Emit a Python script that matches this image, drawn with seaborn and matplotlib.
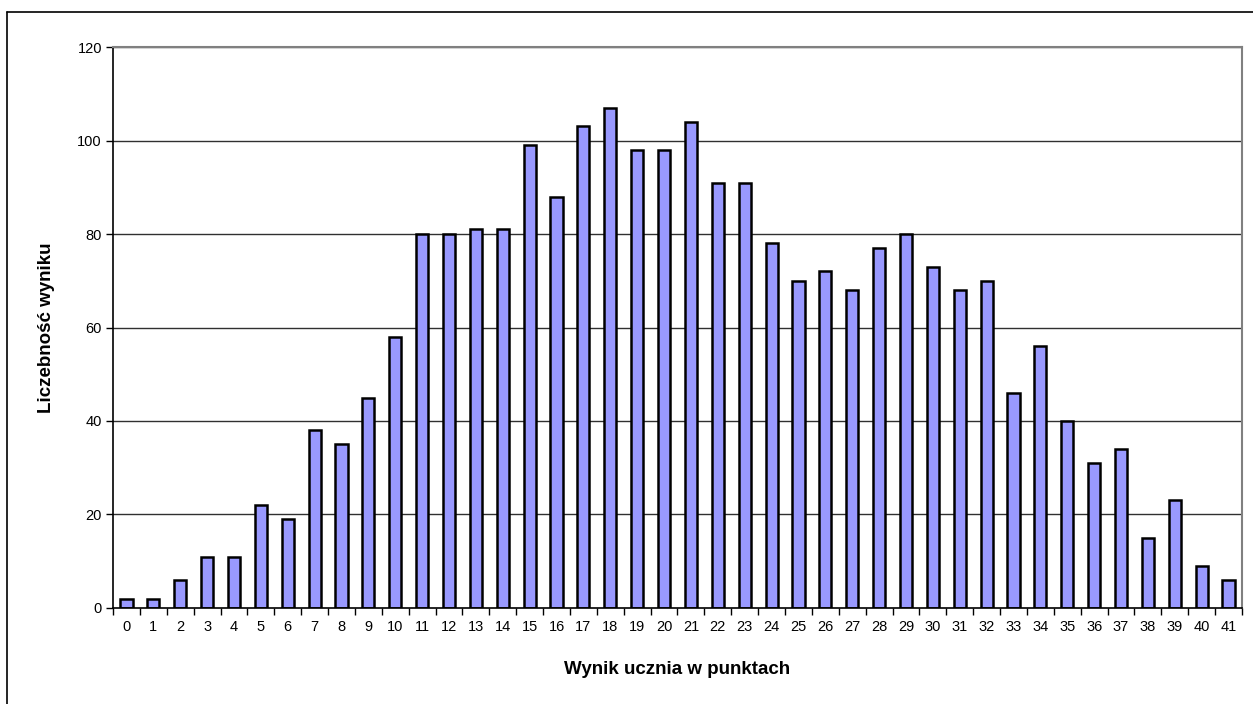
"""
Histogram of student scores (Liczebność wyniku vs Wynik ucznia w punktach),
Excel-style bar chart rebuilt with seaborn.
"""

import pandas as pd
import matplotlib
matplotlib.use('Agg')
import matplotlib.pyplot as plt
import seaborn as sns
from matplotlib.lines import Line2D


# ── Data ───────────────────────────────────────────────────────────────────────

scores = list(range(42))
counts = [2, 2, 6, 11, 11, 22, 19, 38, 35, 45, 58, 80, 80, 81, 81, 99, 88, 103,
          107, 98, 98, 104, 91, 91, 78, 70, 72, 68, 77, 80, 73, 68, 70, 46, 56,
          40, 31, 34, 15, 23, 9, 6]
y_ticks = [0, 20, 40, 60, 80, 100, 120]

x_label = 'Wynik ucznia w punktach'
y_label = 'Liczebność wyniku'


# ── Plot ───────────────────────────────────────────────────────────────────────

sns.set_style('white')
plt.rcParams['font.family'] = ['Liberation Sans', 'DejaVu Sans']
plt.rcParams['text.color'] = 'black'
plt.rcParams['axes.labelcolor'] = 'black'
plt.rcParams['xtick.color'] = 'black'
plt.rcParams['ytick.color'] = 'black'

df = pd.DataFrame({'score': [str(s) for s in scores], 'count': counts})

fig = plt.figure(figsize=(12.53, 7.04), dpi=100)
ax = fig.add_axes([0.0902, 0.1364, 0.9010, 0.7968])

ax.set_axisbelow(True)
for yv in y_ticks[1:]:
    ax.axhline(yv, color='#303030', linewidth=1.0, zorder=0)

sns.barplot(data=df, x='score', y='count', color='#9999FF', saturation=1,
            edgecolor='black', linewidth=1.8, width=0.45, ax=ax, zorder=2)

ax.set_xlim(-0.5, len(scores) - 0.5)
ax.set_ylim(0, 120)
ax.set_yticks(y_ticks)
ax.set_xticks(range(len(scores)))
ax.set_xticklabels([str(s) for s in scores])
ax.set_xticks([i - 0.5 for i in range(len(scores) + 1)], minor=True)

ax.tick_params(axis='x', which='major', length=0, pad=9, labelsize=10.5)
ax.tick_params(axis='x', which='minor', length=5, width=1, color='black',
               direction='out', bottom=True)
ax.tick_params(axis='y', which='major', length=5, width=1, color='black',
               direction='out', left=True, pad=3, labelsize=10.5)

for side in ['left', 'bottom']:
    ax.spines[side].set_color('black')
    ax.spines[side].set_linewidth(1.2)
for side in ['top', 'right']:
    ax.spines[side].set_visible(True)
    ax.spines[side].set_color('#808080')
    ax.spines[side].set_linewidth(1.5)

ax.set_xlabel(x_label, fontsize=13.5, fontweight='bold', color='black')
ax.set_ylabel(y_label, fontsize=13.5, fontweight='bold', color='black')
ax.xaxis.set_label_coords(0.5, -0.095)
ax.yaxis.set_label_coords(-0.051, 0.5)

# outer chart-area frame (left and top edges visible)
fig.add_artist(Line2D([7 / 1253, 7 / 1253], [0, 1 - 12 / 704],
                      transform=fig.transFigure, color='black', linewidth=1.2))
fig.add_artist(Line2D([7 / 1253, 1], [1 - 12 / 704, 1 - 12 / 704],
                      transform=fig.transFigure, color='black', linewidth=1.2))

fig.savefig('out.png', dpi=100)
